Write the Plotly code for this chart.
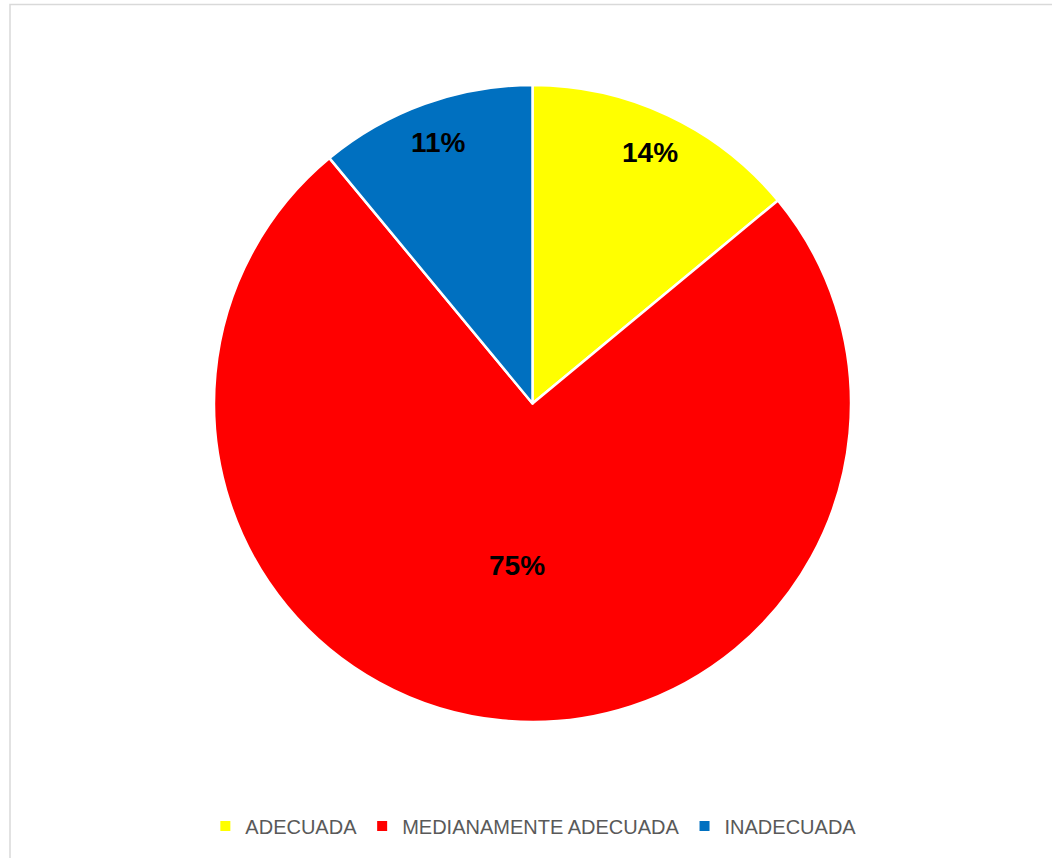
import math
import plotly.graph_objects as go

W, H = 1052, 858

categories = ["ADECUADA", "MEDIANAMENTE ADECUADA", "INADECUADA"]
values = [14, 75, 11]
colors = ["#FFFF00", "#FF0000", "#0070C0"]

# pie placement in pixels (square domain)
PIE_LEFT, PIE_RIGHT, PIE_TOP, PIE_BOTTOM = 214, 851, 85, 722
# radial position of each data label, as a fraction of the radius
label_radius = [0.87, 0.51, 0.87]

fig = go.Figure(
    go.Pie(
        labels=categories,
        values=values,
        sort=False,
        direction="clockwise",
        rotation=0,
        marker=dict(colors=colors, line=dict(color="white", width=2.5)),
        textinfo="none",
        domain=dict(x=[PIE_LEFT / W, PIE_RIGHT / W], y=[1 - PIE_BOTTOM / H, 1 - PIE_TOP / H]),
        hoverinfo="label+percent",
    )
)

# data labels placed at each slice's mid-angle
cx = (PIE_LEFT + PIE_RIGHT) / 2
cy = (PIE_TOP + PIE_BOTTOM) / 2
radius = (PIE_RIGHT - PIE_LEFT) / 2
total = sum(values)
start = 0.0
for v, frac in zip(values, label_radius):
    share = v / total
    mid = (start + share / 2) * 2 * math.pi  # clockwise from 12 o'clock
    start += share
    px = cx + frac * radius * math.sin(mid)
    py = cy - frac * radius * math.cos(mid)
    fig.add_annotation(
        x=px / W, y=1 - py / H, xref="paper", yref="paper",
        text=f"<b>{round(share * 100)}%</b>", showarrow=False,
        font=dict(family="Liberation Sans, Arial", size=28, color="black"),
        xanchor="center", yanchor="middle",
    )

# light gray chart frame
fig.add_shape(
    type="rect", xref="paper", yref="paper",
    x0=10 / W, x1=1.05, y0=-0.05, y1=1 - 4.5 / H,
    line=dict(color="#D9D9D9", width=1.5), fillcolor="rgba(0,0,0,0)", layer="below",
)

fig.update_layout(
    width=W, height=H,
    margin=dict(l=0, r=0, t=0, b=0),
    paper_bgcolor="white",
    plot_bgcolor="white",
    showlegend=True,
    legend=dict(
        orientation="h",
        x=0.507, xanchor="center",
        y=1 - 826 / H, yanchor="middle",
        font=dict(family="Liberation Sans, Arial", size=20, color="#595959"),
        itemsizing="constant",
        traceorder="normal",
        itemwidth=30,
    ),
)

fig.write_html("out.html")
